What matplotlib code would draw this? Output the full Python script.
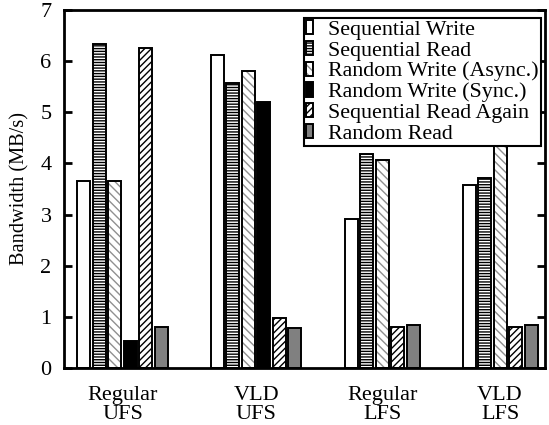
import matplotlib
matplotlib.use("Agg")
import matplotlib.pyplot as plt
import numpy as np

plt.rcParams["font.family"] = ["Liberation Serif", "DejaVu Serif"]
plt.rcParams["hatch.linewidth"] = 1.0

groups = ["Regular\nUFS", "VLD\nUFS", "Regular\nLFS", "VLD\nLFS"]
series = [
    "Sequential Write",
    "Sequential Read",
    "Random Write (Async.)",
    "Random Write (Sync.)",
    "Sequential Read Again",
    "Random Read",
]
seq_write = [3.65, 6.12, 2.91, 3.57]
seq_read = [6.34, 5.57, 4.18, 3.71]
rand_write_async = [3.65, 5.81, 4.07, 4.48]
rand_write_sync = [0.52, 5.20, np.nan, np.nan]
seq_read_again = [6.25, 0.98, 0.81, 0.81]
rand_read = [0.81, 0.79, 0.85, 0.85]

values = [seq_write, seq_read, rand_write_async, rand_write_sync, seq_read_again, rand_read]

# style per series: (face, hatch, hatch colour)
styles = [
    ("white", None, None),
    ("white", "------", "black"),
    ("white", "\\\\\\\\", "#909090"),
    ("black", None, None),
    ("white", "/////", "black"),
    ("#808080", None, None),
]

# layout in slot units (one slot per bar)
group_centers = [3.77, 12.39, 20.52, 28.13]
bar_w = 0.84

fig = plt.figure(figsize=(5.49, 4.25), dpi=100)
ax = fig.add_axes([0.1166, 0.1341, 0.8761, 0.8424])

handles = [None] * len(series)
for g, c in enumerate(group_centers):
    present = [i for i in range(len(series)) if not np.isnan(values[i][g])]
    n = len(present)
    for k, i in enumerate(present):
        x = c + (k - (n - 1) / 2)
        v = values[i][g]
        face, hatch, hcol = styles[i]
        if hatch:
            h1 = ax.bar(x, v, bar_w, color=face, edgecolor=hcol, hatch=hatch, linewidth=0)
            h2 = ax.bar(x, v, bar_w, facecolor="none", edgecolor="black", linewidth=1.4)
            handles[i] = (h1[0], h2[0])
        else:
            h = ax.bar(x, v, bar_w, color=face, edgecolor="black", linewidth=1.4)
            handles[i] = h[0]

ax.set_xlim(0, 31.03)
ax.set_ylim(0, 7)
ax.set_yticks(range(0, 8))
ax.set_xticks(group_centers)
ax.set_xticklabels(groups, fontsize=16, linespacing=1.0)
ax.tick_params(axis="x", length=0, pad=13)
ax.tick_params(axis="y", direction="in", length=6, width=2, right=True, labelsize=16, pad=9)
for s in ax.spines.values():
    s.set_linewidth(2)
ax.set_ylabel("Bandwidth (MB/s)", fontsize=14.7, labelpad=8)

leg = ax.legend(handles, series, loc="upper right", bbox_to_anchor=(0.9917, 0.9777),
                fontsize=15.8, handlelength=0.3, handleheight=0.62, handletextpad=0.7,
                labelspacing=0.04, borderpad=0.1, borderaxespad=0, fancybox=False,
                framealpha=1, edgecolor="black")
leg.get_frame().set_linewidth(1.5)

fig.savefig("out.png", dpi=100)
